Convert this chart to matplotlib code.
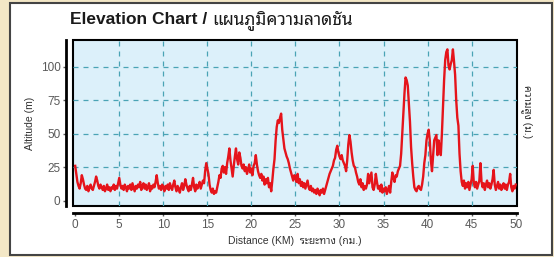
import numpy as np
import matplotlib
matplotlib.use("Agg")
import matplotlib.pyplot as plt
from matplotlib.patches import Rectangle

# altitude (m) every 0.125 km (one row per km)
step_km = 0.125
altitude = [
    26, 20, 14, 11, 9, 13, 19, 16,
    12, 9, 8, 11, 7, 10, 12, 9,
    8, 11, 14, 18, 15, 11, 9, 12,
    10, 8, 11, 7, 9, 12, 8, 10,
    7, 10, 9, 12, 8, 11, 9, 13,
    17, 12, 9, 11, 8, 12, 10, 7,
    11, 9, 12, 8, 13, 10, 7, 11,
    9, 12, 10, 14, 8, 11, 13, 9,
    12, 8, 10, 13, 7, 11, 9, 12,
    10, 14, 19, 13, 9, 11, 8, 12,
    10, 7, 11, 9, 12, 8, 13, 10,
    8, 12, 15, 10, 7, 11, 9, 6,
    10, 13, 8, 11, 16, 12, 9, 7,
    11, 8, 12, 17, 10, 7, 12, 9,
    11, 14, 9, 12, 15, 13, 22, 28,
    24, 20, 12, 8, 6, 9, 5, 7,
    6, 10, 14, 19, 17, 24, 26, 21,
    25, 20, 28, 33, 39, 30, 24, 18,
    26, 33, 39, 31, 27, 36, 32, 26,
    24, 27, 22, 25, 20, 23, 27, 21,
    24, 19, 26, 28, 34, 27, 22, 19,
    17, 20, 15, 18, 12, 16, 13, 17,
    10, 13, 7, 15, 24, 31, 45, 55,
    60, 58, 62, 65, 53, 46, 39, 36,
    33, 31, 28, 24, 21, 18, 15, 19,
    17, 14, 20, 13, 16, 11, 14, 10,
    13, 9, 12, 15, 10, 8, 11, 7,
    9, 6, 8, 5, 9, 7, 4, 8,
    6, 9, 5, 8, 11, 14, 17, 20,
    22, 24, 26, 30, 32, 38, 41, 36,
    33, 31, 34, 30, 28, 26, 22, 30,
    42, 49, 44, 36, 30, 26, 25, 21,
    18, 14, 12, 16, 10, 13, 8, 11,
    9, 12, 20, 13, 17, 21, 10, 8,
    12, 20, 14, 9, 11, 7, 12, 6,
    9, 7, 10, 5, 8, 11, 6, 14,
    21, 17, 14, 19, 18, 22, 24, 26,
    35, 50, 64, 80, 92, 90, 86, 72,
    59, 40, 28, 18, 10, 8, 7, 10,
    11, 9, 8, 12, 18, 28, 34, 45,
    50, 53, 45, 30, 22, 33, 45, 47,
    49, 34, 45, 40, 34, 50, 71, 90,
    105, 111, 113, 101, 98, 102, 105, 113,
    104, 94, 75, 62, 56, 35, 22, 14,
    11, 15, 9, 13, 10, 14, 8, 12,
    16, 26, 13, 10, 14, 9, 12, 15,
    28, 14, 10, 13, 8, 12, 15, 10,
    13, 9, 12, 16, 23, 12, 8, 11,
    14, 9, 12, 8, 11, 13, 9, 12,
    8, 12, 14, 20, 10, 7, 11, 9,
    12,
]
distance = np.arange(len(altitude)) * step_km

x_ticks = [0, 5, 10, 15, 20, 25, 30, 35, 40, 45, 50]
y_ticks = [0, 25, 50, 75, 100]

title_en = "Elevation Chart / "
title_th = "แผนภูมิความลาดชัน"
xlabel = "Distance (KM)  ระยะทาง (กม.)"
ylabel = "Altitude (m)"
ylabel_right = "ความสูง (ม.)"

fam = ["Liberation Sans", "Noto Sans Thai Looped"]

fig = plt.figure(figsize=(5.54, 2.57), dpi=100, facecolor="#f3e7c6")
# white panel behind the chart
fig.patches.append(Rectangle((10 / 554, 2 / 257), 542 / 554, 252 / 257,
                             transform=fig.transFigure, facecolor="white",
                             edgecolor="#444444", linewidth=1.5, zorder=-5))

ax = fig.add_axes([73 / 554, 1 - 206 / 257, 444 / 554, 166 / 257])
ax.set_facecolor("#dcf0fa")
ax.patch.set_edgecolor("black")
ax.patch.set_linewidth(1.5)

ax.plot(distance, altitude, color="#e5141b", linewidth=1.7, zorder=3)

ax.set_xlim(-0.25, 50.15)
ax.set_ylim(-4, 120)
ax.set_xticks(x_ticks)
ax.set_yticks(y_ticks)

for s in ["top", "right"]:
    ax.spines[s].set_visible(False)
for s in ["left", "bottom"]:
    ax.spines[s].set_position(("outward", 5))
    ax.spines[s].set_linewidth(2)

ax.grid(True, linestyle=(0, (4, 4)), color="#4aa3b5", linewidth=0.9, zorder=1)
ax.yaxis.get_gridlines()[0].set_visible(False)
ax.xaxis.get_gridlines()[0].set_visible(False)
ax.xaxis.get_gridlines()[-1].set_visible(False)

ax.tick_params(length=2, width=1, colors="#5a5a5a", labelsize=8.5, pad=2)
for lab in ax.get_xticklabels() + ax.get_yticklabels():
    lab.set_family(fam)

ax.set_ylabel(ylabel, family=fam, fontsize=7.5, color="#333333", labelpad=4)
ax.set_xlabel(xlabel, family=fam, fontsize=7.5, color="#333333", labelpad=4)

fig.text(527 / 554, 1 - 112 / 257, ylabel_right, rotation=270, family=fam,
         fontsize=7.5, color="#333333", ha="center", va="center")

t = fig.text(70 / 554, 1 - 20 / 257, title_en, family=fam, fontsize=12.5,
             fontweight="bold", color="#1a1a1a", va="center")
fig.canvas.draw()
bb = t.get_window_extent()
fig.text(bb.x1 / fig.bbox.width, 1 - 20 / 257, title_th, family=fam,
         fontsize=12.5, color="#1a1a1a", va="center")

fig.savefig("out.png", dpi=100, facecolor=fig.get_facecolor())
